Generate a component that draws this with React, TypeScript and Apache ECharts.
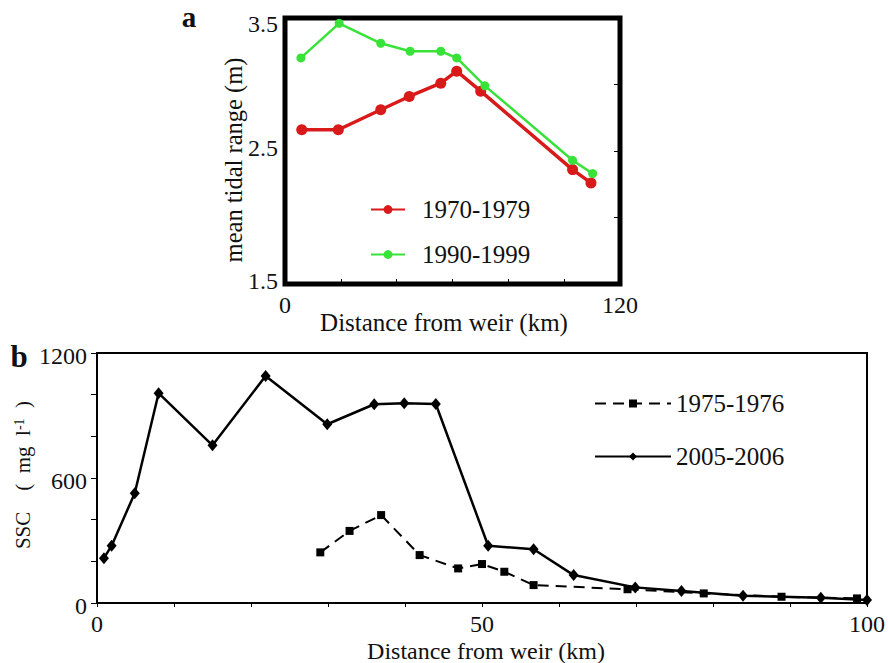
import React, { useEffect, useRef } from "react";
import * as echarts from "echarts";

// Panel a: mean tidal range along the estuary
const tidalKm1970 = [6.0, 19.1, 34.3, 44.5, 55.8, 61.5, 70.1, 103.0, 109.6];
const tidal1970 = [2.66, 2.66, 2.81, 2.91, 3.01, 3.1, 2.95, 2.36, 2.26];
const tidalKm1990 = [5.7, 19.4, 34.3, 44.8, 55.8, 61.5, 71.6, 103.0, 110.2];
const tidal1990 = [3.2, 3.46, 3.31, 3.25, 3.25, 3.2, 2.99, 2.43, 2.33];
const tidalYTicks = [1.5, 2.5, 3.5];
const tidalXTicks = [0, 120];

// Panel b: suspended sediment concentration
const sscKm1975 = [29.0, 32.8, 36.9, 41.9, 46.9, 50.0, 52.9, 56.7, 68.9, 78.8, 88.9, 98.7];
const ssc1975 = [243, 346, 422, 230, 166, 187, 150, 86, 66, 46, 30, 22];
const sscKm2005 = [0.9, 1.9, 4.9, 8.0, 15.0, 21.9, 29.9, 36.0, 39.9, 44.0, 50.8, 56.7, 61.9, 69.9, 75.9, 83.9, 94.0, 100];
const ssc2005 = [215, 275, 527, 1007, 757, 1090, 858, 954, 959, 955, 275, 258, 134, 75, 58, 35, 25, 14];
const sscYTicks = [0, 600, 1200];
const sscXTicks = [0, 50, 100];

const FONT = "Liberation Serif";
const INK = "#111";

const pair = (xs: number[], ys: number[]) => xs.map((x, i) => [x, ys[i]]);
const isTick = (ticks: number[], v: number) => ticks.some((t) => Math.abs(t - v) < 1e-6);

export default function App() {
  const ref = useRef<HTMLDivElement>(null);

  useEffect(() => {
    if (!ref.current) return;
    const chart = echarts.init(ref.current, undefined, { renderer: "svg" });

    const label = (ticks: number[], margin: number) => ({
      show: true,
      margin,
      fontFamily: FONT,
      fontSize: 24,
      color: INK,
      formatter: (v: number) => (isTick(ticks, v) ? String(v) : ""),
    });

    // tidal range labels: the top one sits a little below the frame, the others slightly above their ticks
    const tidalLabel = {
      show: true,
      margin: 7,
      formatter: (v: number) => {
        if (!isTick(tidalYTicks, v)) return "";
        const key = v === 3.5 ? "hi" : "lo";
        return `{${key}|${v.toFixed(1)}}`;
      },
      rich: {
        hi: { fontFamily: FONT, fontSize: 24, color: INK, padding: [12, 0, 0, 0] },
        lo: { fontFamily: FONT, fontSize: 24, color: INK, padding: [0, 0, 6, 0] },
      },
    };

    const sscLabel = {
      show: true,
      margin: 10,
      formatter: (v: number) => (isTick(sscYTicks, v) ? `{v|${v}}` : ""),
      rich: { v: { fontFamily: FONT, fontSize: 24, color: INK, padding: [5, 0, 0, 0] } },
    };

    chart.setOption({
      animation: false,
      backgroundColor: "#fff",
      textStyle: { fontFamily: FONT },
      grid: [
        { left: 285, top: 18, width: 335, height: 266, show: true, borderColor: "#000", borderWidth: 5, backgroundColor: "transparent" },
        { left: 97, top: 353, width: 779, height: 250, show: true, borderColor: "#000", borderWidth: 2, backgroundColor: "transparent" },
      ],
      xAxis: [
        {
          gridIndex: 0, type: "value", min: 0, max: 120, interval: 20,
          axisLine: { show: false }, splitLine: { show: false },
          axisTick: { show: true, inside: true, length: 5, lineStyle: { color: "#000", width: 1 } },
          axisLabel: label(tidalXTicks, 9),
        },
        {
          gridIndex: 1, type: "value", min: 0, max: 100, interval: 10,
          axisLine: { show: true, lineStyle: { color: "#000", width: 2 } }, splitLine: { show: false },
          axisTick: { show: true, inside: false, length: 4, lineStyle: { color: "#000", width: 1 } },
          axisLabel: label(sscXTicks, 9),
        },
      ],
      yAxis: [
        {
          gridIndex: 0, type: "value", min: 1.5, max: 3.5, interval: 0.5,
          axisLine: { show: false }, splitLine: { show: false }, axisTick: { show: false },
          axisLabel: tidalLabel,
        },
        {
          gridIndex: 0, type: "value", min: 1.5, max: 3.5, interval: 0.5, position: "right",
          axisLine: { show: false }, splitLine: { show: false }, axisLabel: { show: false },
          axisTick: { show: true, inside: true, length: 6, lineStyle: { color: "#000", width: 1 } },
        },
        {
          gridIndex: 1, type: "value", min: 0, max: 1200, interval: 200,
          axisLine: { show: true, lineStyle: { color: "#000", width: 2 } }, splitLine: { show: false },
          axisTick: { show: true, inside: false, length: 6, lineStyle: { color: "#000", width: 1 } },
          axisLabel: sscLabel,
        },
      ],
      legend: [
        {
          orient: "vertical", left: 365, top: 192, itemWidth: 34, itemHeight: 11, itemGap: 20,
          data: ["1970-1979", "1990-1999"],
          textStyle: { fontFamily: FONT, fontSize: 25, color: INK, padding: [0, 0, 0, 12] },
          selectedMode: false,
        },
        {
          orient: "vertical", left: 589, top: 386, itemWidth: 76, itemHeight: 10, itemGap: 28,
          data: ["1975-1976", "2005-2006"],
          textStyle: { fontFamily: FONT, fontSize: 25, color: INK },
          selectedMode: false,
        },
      ],
      series: [
        {
          name: "1970-1979", type: "line", xAxisIndex: 0, yAxisIndex: 0,
          data: pair(tidalKm1970, tidal1970),
          symbol: "circle", symbolSize: 11,
          lineStyle: { color: "#d91a1a", width: 3.5 }, itemStyle: { color: "#d91a1a" },
        },
        {
          name: "1990-1999", type: "line", xAxisIndex: 0, yAxisIndex: 0,
          data: pair(tidalKm1990, tidal1990),
          symbol: "circle", symbolSize: 9,
          lineStyle: { color: "#38e238", width: 2.5 }, itemStyle: { color: "#38e238" },
        },
        {
          name: "1975-1976", type: "line", xAxisIndex: 1, yAxisIndex: 2,
          data: pair(sscKm1975, ssc1975),
          symbol: "rect", symbolSize: 8,
          lineStyle: { color: "#000", width: 2, type: [11, 7] }, itemStyle: { color: "#000" },
        },
        {
          name: "2005-2006", type: "line", xAxisIndex: 1, yAxisIndex: 2,
          data: pair(sscKm2005, ssc2005),
          symbol: "diamond", symbolSize: [10, 12],
          lineStyle: { color: "#000", width: 2.5 }, itemStyle: { color: "#000" },
        },
      ],
      graphic: [
        { type: "text", x: 189, y: 17, style: { text: "a", fontFamily: FONT, fontWeight: "bold", fontSize: 29, fill: INK, align: "center", verticalAlign: "middle" } },
        { type: "text", x: 19, y: 356, style: { text: "b", fontFamily: FONT, fontWeight: "bold", fontSize: 31, fill: INK, align: "center", verticalAlign: "middle" } },
        {
          type: "text", x: 233, y: 160, rotation: Math.PI / 2,
          style: { text: "mean tidal range (m)", fontFamily: FONT, fontSize: 24.5, fill: INK, align: "center", verticalAlign: "middle" },
        },
        {
          type: "text", x: 444, y: 322,
          style: { text: "Distance from weir (km)", fontFamily: FONT, fontSize: 25, fill: INK, align: "center", verticalAlign: "middle" },
        },
        {
          type: "text", x: 486, y: 651,
          style: { text: "Distance from weir (km)", fontFamily: FONT, fontSize: 24, fill: INK, align: "center", verticalAlign: "middle" },
        },
        {
          type: "text", x: 23, y: 475, rotation: Math.PI / 2,
          style: {
            text: "{m|SSC    (  mg  l}{s|-1}{m|  )}",
            align: "center", verticalAlign: "middle",
            rich: {
              m: { fontFamily: FONT, fontSize: 21, fill: INK },
              s: { fontFamily: FONT, fontSize: 14, fill: INK, verticalAlign: "top", padding: [0, 0, 8, 0] },
            },
          },
        },
      ],
    });

    return () => chart.dispose();
  }, []);

  return <div ref={ref} style={{ position: "absolute", left: 0, top: 0, width: 888, height: 663 }} />;
}
